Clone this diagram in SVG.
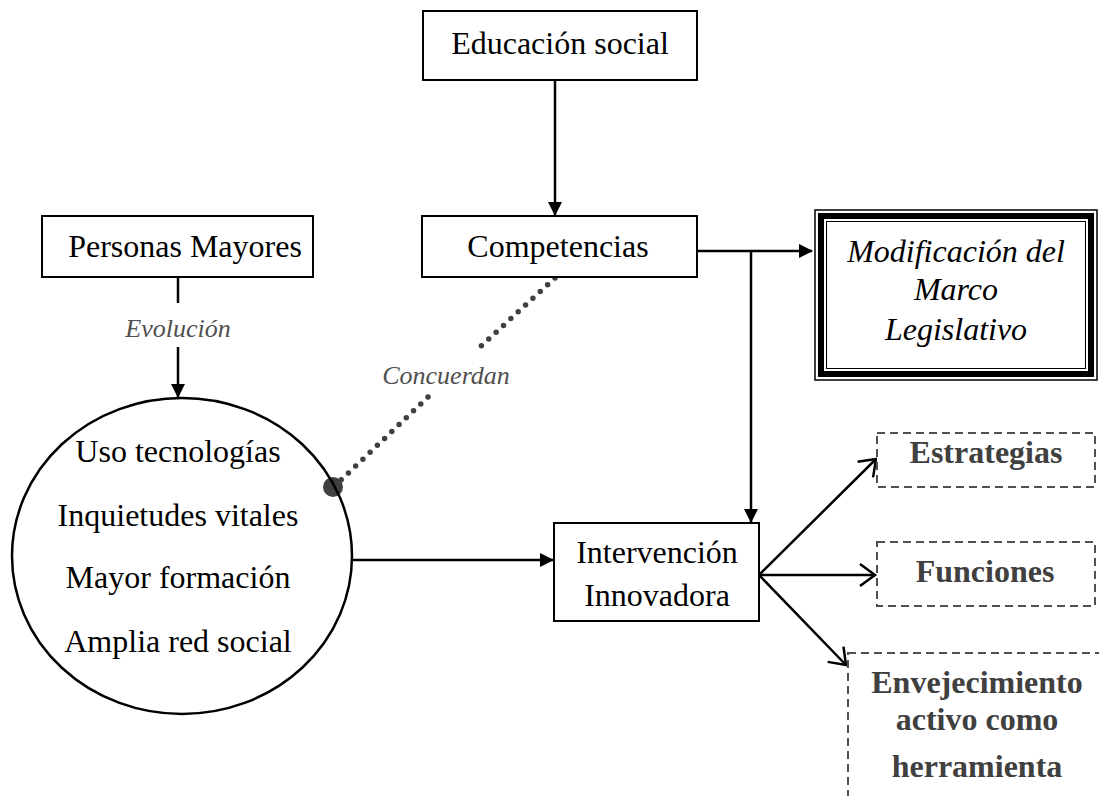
<svg xmlns="http://www.w3.org/2000/svg" width="1099" height="796" viewBox="0 0 1099 796">
<style>
.box{fill:#fff;stroke:#000;stroke-width:2}
.dbox{fill:#fff;stroke:#505050;stroke-width:2;stroke-dasharray:8 5}
.t{font-family:"Liberation Serif","Times New Roman",serif;font-size:32px;fill:#000;text-anchor:middle}
.it{font-style:italic}
.b{font-weight:bold;fill:#404040}
.lbl{font-family:"Liberation Serif","Times New Roman",serif;font-size:26px;font-style:italic;fill:#505050;text-anchor:middle}
.ln{stroke:#000;stroke-width:2.5;fill:none}
</style>
<defs>
<marker id="fa" markerWidth="14" markerHeight="14" refX="13" refY="7" orient="auto" markerUnits="userSpaceOnUse">
<path d="M0,0 L14,7 L0,14 Z" fill="#000"/>
</marker>
<marker id="oa" markerWidth="20" markerHeight="24" refX="17" refY="12" orient="auto" markerUnits="userSpaceOnUse">
<path d="M2,1 L17,12 L2,23" fill="none" stroke="#000" stroke-width="2.5"/>
</marker>
</defs>
<g id="connectors">
<line class="ln" x1="555" y1="80" x2="555" y2="215" marker-end="url(#fa)"/>
<line class="ln" x1="178" y1="277" x2="178" y2="303"/>
<line class="ln" x1="178" y1="347" x2="178" y2="397" marker-end="url(#fa)"/>
<polyline class="ln" points="697,251 812,251" marker-end="url(#fa)"/>
<line class="ln" x1="751" y1="251" x2="751" y2="522" marker-end="url(#fa)"/>
<line class="ln" x1="352" y1="560" x2="553" y2="560" marker-end="url(#fa)"/>
<line class="ln" x1="759" y1="575" x2="876" y2="459" marker-end="url(#oa)"/>
<line class="ln" x1="759" y1="575" x2="875" y2="575" marker-end="url(#oa)"/>
<line class="ln" x1="759" y1="575" x2="846" y2="665" marker-end="url(#oa)"/>
<line x1="555" y1="278" x2="480" y2="347" stroke="#404040" stroke-width="5.5" stroke-linecap="round" stroke-dasharray="0 10"/>
<line x1="428" y1="397" x2="340" y2="481" stroke="#404040" stroke-width="5.5" stroke-linecap="round" stroke-dasharray="0 10"/>
<circle cx="333" cy="487" r="10" fill="#404040"/>
<text class="lbl" x="178" y="337">Evolución</text>
<text class="lbl" x="446" y="384">Concuerdan</text>
</g>
<g id="educacion">
<rect class="box" x="423" y="11" width="274" height="69"/>
<text class="t" x="560" y="54">Educación social</text>
</g>
<g id="personas">
<rect class="box" x="42" y="216" width="271" height="61"/>
<text class="t" x="185" y="257">Personas Mayores</text>
</g>
<g id="competencias">
<rect class="box" x="422" y="216" width="275" height="61"/>
<text class="t" x="558" y="257">Competencias</text>
</g>
<g id="modificacion">
<rect x="815" y="210" width="282" height="170" fill="#fff" stroke="#000" stroke-width="1.5"/>
<rect x="821" y="216" width="270" height="158" fill="none" stroke="#000" stroke-width="6"/>
<rect x="826.5" y="221.5" width="259" height="147" fill="none" stroke="#000" stroke-width="1"/>
<text class="t it" x="956" y="262">Modificación del</text>
<text class="t it" x="956" y="300">Marco</text>
<text class="t it" x="956" y="340">Legislativo</text>
</g>
<g id="circulo">
<ellipse cx="182" cy="556" rx="170" ry="158" fill="none" stroke="#000" stroke-width="2.5"/>
<text class="t" x="178" y="462">Uso tecnologías</text>
<text class="t" x="178" y="526">Inquietudes vitales</text>
<text class="t" x="178" y="588">Mayor formación</text>
<text class="t" x="178" y="652">Amplia red social</text>
</g>
<g id="intervencion">
<rect class="box" x="554" y="523" width="205" height="98"/>
<text class="t" x="657" y="563">Intervención</text>
<text class="t" x="657" y="606">Innovadora</text>
</g>
<g id="estrategias">
<rect class="dbox" x="877" y="433" width="218" height="54"/>
<text class="t b" x="986" y="463">Estrategias</text>
</g>
<g id="funciones">
<rect class="dbox" x="877" y="542" width="218" height="64"/>
<text class="t b" x="985" y="582">Funciones</text>
</g>
<g id="envejecimiento">
<rect class="dbox" x="848" y="653" width="260" height="170"/>
<text class="t b" x="977" y="693">Envejecimiento</text>
<text class="t b" x="977" y="730">activo como</text>
<text class="t b" x="977" y="777">herramienta</text>
</g>
</svg>
